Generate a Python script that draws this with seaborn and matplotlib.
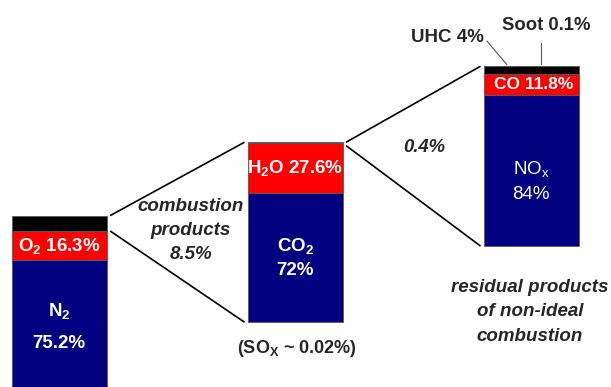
import matplotlib
matplotlib.use("Agg")
import matplotlib.pyplot as plt
import seaborn as sns

sns.set_style("white")
plt.rcParams["font.family"] = ["Liberation Sans", "DejaVu Sans"]
plt.rcParams["mathtext.default"] = "regular"

# Composition of each stage (percent), listed bottom to top
stages = ["air", "products", "residual"]
air_parts = ["N$_2$", "O$_2$", "combustion products"]
air_values = [75.2, 16.3, 8.5]
product_parts = ["CO$_2$", "H$_2$O", "residual"]
product_values = [72, 27.6, 0.4]
residual_parts = ["NO$_x$", "CO", "UHC", "Soot"]
residual_values = [84, 11.8, 4, 0.1]

NAVY, RED, BLACK = "#000080", "#ff0000", "#000000"
part_colors = [
    [NAVY, RED, BLACK],
    [NAVY, RED, BLACK],
    [NAVY, RED, BLACK, BLACK],
]
# vertical offset of each stacked column
bases = [-4.8, 36.0, 78.3]
bar_width = 0.4025

fig = plt.figure(figsize=(6.11, 3.87), dpi=100)
ax = fig.add_axes([0, 0, 1, 1])

all_parts = [air_parts, product_parts, residual_parts]
all_values = [air_values, product_values, residual_values]

for i, (stage, parts, vals, cols) in enumerate(zip(stages, all_parts, all_values, part_colors)):
    bottom = bases[i]
    for part, v, c in zip(parts, vals, cols):
        sns.barplot(x=[stage], y=[v], order=stages, color=c, saturation=1,
                    bottom=bottom, width=bar_width, errorbar=None,
                    edgecolor="#5a5a5a", linewidth=0.6, ax=ax)
        bottom += v

tops = [bases[i] + sum(v) for i, v in enumerate(all_values)]
half = bar_width / 2


def seg_center(stage_idx, part_idx):
    vals = all_values[stage_idx]
    b = bases[stage_idx] + sum(vals[:part_idx])
    return b + vals[part_idx] / 2


white = dict(color="white", ha="center", va="center", fontweight="bold")

# labels inside the columns
ax.text(0, seg_center(0, 0) + 1.0, f"{air_parts[0]}\n{air_values[0]:g}%",
        fontsize=13.5, linespacing=2.1, **white)
ax.text(0, seg_center(0, 1), f"{air_parts[1]} {air_values[1]:g}%", fontsize=13.5, **white)
ax.text(1, seg_center(1, 0), f"{product_parts[0]}\n{product_values[0]:g}%",
        fontsize=13.5, linespacing=1.45, **white)
ax.text(1, seg_center(1, 1), f"{product_parts[1]} {product_values[1]:g}%", fontsize=13.5, **white)
ax.text(2, seg_center(2, 0) - 6.0, f"{residual_parts[0]}\n{residual_values[0]:g}%",
        fontsize=13.5, linespacing=1.55, color="white", ha="center", va="center")
ax.text(2.01, seg_center(2, 1), f"{residual_parts[1]} {residual_values[1]:g}%",
        fontsize=12.5, **white)

# connector lines between the columns
line_kw = dict(color="black", lw=1.2, solid_capstyle="butt")
gap = 0.014
x1r, x2l = 0 + half + gap, 1 - half - gap
ax.plot([x1r, x2l], [tops[0], tops[1]], **line_kw)
ax.plot([x1r, x2l], [tops[0] - air_values[2], bases[1]], **line_kw)
x2r, x3l = 1 + half + gap, 2 - half - gap
ax.plot([x2r, x3l], [tops[1], tops[2]], **line_kw)
ax.plot([x2r, x3l], [tops[1] - product_values[2] - 1.5, bases[2]], **line_kw)

# annotations
ax.text(0.558, 87.0, f"combustion\nproducts\n{air_values[2]:g}%", fontsize=13.5,
        fontweight="bold", fontstyle="italic", ha="center", va="center", linespacing=1.55)
ax.text(1.545, 133.0, f"{product_values[2]:g}%", fontsize=13.3,
        fontweight="bold", fontstyle="italic", ha="center", va="center")
ax.text(1.007, 21.6, "(SO$_X$ ~ 0.02%)", fontsize=13, fontweight="bold",
        ha="center", va="center")
ax.text(1.643, 194.0, f"{residual_parts[2]} {residual_values[2]:g}%", fontsize=13.5,
        fontweight="bold", ha="center", va="center")
ax.text(2.062, 200.8, f"{residual_parts[3]} {residual_values[3]:g}%", fontsize=13.3,
        fontweight="bold", ha="center", va="center")
ax.plot([1.812, 1.897], [192.2, tops[2] + 0.8], color="#555555", lw=0.8)
ax.plot([2.04, 2.04], [191.0, tops[2] + 1.5], color="#555555", lw=0.8)
ax.text(1.994, 41.7, "residual products\nof non-ideal\ncombustion", fontsize=13.5,
        fontweight="bold", fontstyle="italic", ha="center", va="center", linespacing=1.6)

ax.set_xlim(-0.2513, 2.3377)
ax.set_ylim(0, 215)
ax.axis("off")

fig.savefig("out.png", dpi=100)
